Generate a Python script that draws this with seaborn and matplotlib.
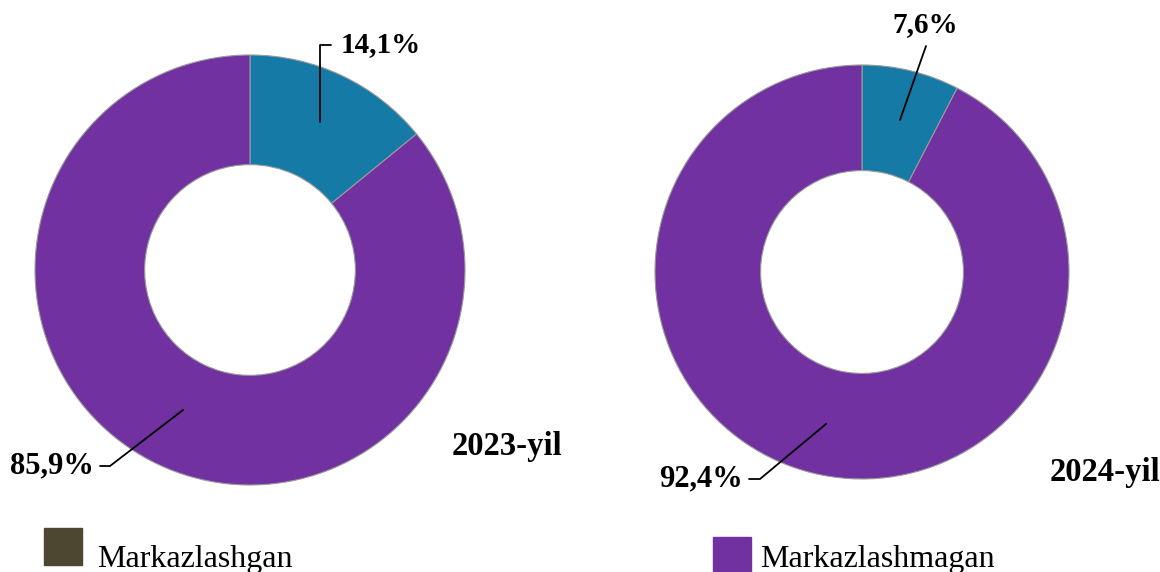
import numpy as np
import matplotlib
matplotlib.use("Agg")
import matplotlib.pyplot as plt
import seaborn as sns
from matplotlib.lines import Line2D
from matplotlib.patches import Rectangle

# Data
categories = ["Markazlashgan", "Markazlashmagan"]
years = ["2023-yil", "2024-yil"]
values_2023 = [14.1, 85.9]
values_2024 = [7.6, 92.4]
labels_2023 = ["14,1%", "85,9%"]
labels_2024 = ["7,6%", "92,4%"]
slice_colors = ["#167aa6", "#7131a1"]
legend_colors = ["#4d4630", "#7131a1"]

sns.set_theme(style="white")
plt.rcParams["font.family"] = ["Liberation Serif", "DejaVu Serif"]

W, H = 1160, 572
fig = plt.figure(figsize=(W / 100, H / 100), dpi=100)


def px(x, y):
    # pixel (from top-left) -> figure fraction
    return x / W, 1 - y / H


def donut(cx, cy, r, values):
    x0, y1 = px(cx - r, cy - r)
    x1, y0 = px(cx + r, cy + r)
    ax = fig.add_axes([x0, y0, x1 - x0, y1 - y0])
    ax.pie(values, colors=slice_colors, startangle=90, counterclock=False,
           radius=1, wedgeprops=dict(width=0.51, edgecolor="#9a9a9a", linewidth=0.8))
    ax.set_xlim(-1, 1)
    ax.set_ylim(-1, 1)
    ax.set_aspect("equal")
    ax.axis("off")
    return ax


donut(250, 270, 215, values_2023)
donut(862, 272, 207, values_2024)


def leader(points):
    xs, ys = zip(*[px(x, y) for x, y in points])
    fig.add_artist(Line2D(xs, ys, color="black", lw=1.3, transform=fig.transFigure))


def label(x, y, s, ha="left", size=22, weight="bold", va="center"):
    fx, fy = px(x, y)
    fig.text(fx, fy, s, ha=ha, va=va, fontsize=size, fontweight=weight, color="black")


# 2023 labels
label(341, 45, labels_2023[0], size=21)
leader([(320, 122), (320, 45), (331, 45)])
label(10, 466, labels_2023[1])
leader([(100, 466), (110, 466), (183, 410)])
label(452, 447, years[0], size=23.5)

# 2024 labels
label(892, 25, labels_2024[0], size=21)
leader([(900, 120), (926, 46)])
label(659, 479, labels_2024[1])
leader([(749, 479), (760, 479), (826, 424)])
label(1050, 472, years[1], size=23.5)

# legend
for (sx, sy, tx), name, c in zip([(44, 528, 97), (713, 537, 760)], categories, legend_colors):
    fx, fy = px(sx, sy + 37)
    fig.add_artist(Rectangle((fx, fy), 38 / W, 37 / H, color=c, transform=fig.transFigure))
    label(tx, 567, name, size=23, weight="normal", va="baseline")

fig.savefig("out.png", dpi=100)
